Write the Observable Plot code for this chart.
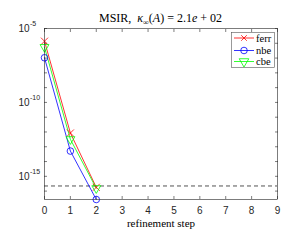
<!DOCTYPE html>
<html><head><meta charset="utf-8">
<script src="https://cdn.jsdelivr.net/npm/d3@7"></script>
<script src="https://cdn.jsdelivr.net/npm/@observablehq/plot@0.6"></script>
<style>body{margin:0;background:#fff} .serif{font-family:"Liberation Serif","DejaVu Serif",serif !important}</style>
</head><body><div id="chart"></div>
<script>
const steps = [0, 1, 2];
const ferr = [1.38e-6, 8.5e-13, 1.8e-16];
const nbe = [1.05e-7, 5.1e-14, 2.7e-17];
const cbe = [5.5e-7, 3.2e-13, 1.55e-16];
const seriesNames = ["ferr", "nbe", "cbe"];
const seriesColors = ["#ff0000", "#0000ff", "#00ff00"];
const seriesSymbols = ["times", "circle", "triangle"];
const xTicks = [0, 1, 2, 3, 4, 5, 6, 7, 8, 9];
const yLabelTicks = [1e-5, 1e-10, 1e-15];
const yLabelExponents = ["-5", "-10", "-15"];
const yDecadeTicks = [1e-5, 1e-6, 1e-7, 1e-8, 1e-9, 1e-10, 1e-11, 1e-12, 1e-13, 1e-14, 1e-15, 1e-16];
const unitRoundoff = 2.22e-16;
const xLabel = "refinement step";

const seriesValues = [ferr, nbe, cbe];
const rows = [];
seriesNames.forEach((s, i) => steps.forEach((st, j) => rows.push({series: s, step: st, value: seriesValues[i][j]})));

const axisColor = "#262626";
const plot = Plot.plot({
  width: 292, height: 240,
  marginLeft: 44, marginRight: 15, marginTop: 28, marginBottom: 41,
  style: {fontFamily: "'Liberation Sans', Arial, sans-serif", fontSize: "10px", background: "white", color: axisColor},
  x: {domain: [0, 9]},
  y: {type: "log", domain: [2.7e-17, 1e-5]},
  color: {domain: seriesNames, range: seriesColors},
  symbol: {domain: seriesNames, range: seriesSymbols},
  marks: [
    Plot.axisX({anchor: "bottom", ticks: xTicks, tickSize: -3, tickPadding: 10, tickFormat: d => String(d), label: null, strokeWidth: 0.6}),
    Plot.axisX({anchor: "top", ticks: xTicks, tickSize: -3, tickFormat: () => "", label: null, strokeWidth: 0.6}),
    Plot.axisY({anchor: "left", ticks: yDecadeTicks, tickSize: -3, tickFormat: () => "", label: null, strokeWidth: 0.6}),
    Plot.axisY({anchor: "right", ticks: yDecadeTicks, tickSize: -3, tickFormat: () => "", label: null, strokeWidth: 0.6}),
    Plot.text(yLabelTicks, {y: d => d, text: () => "10", frameAnchor: "left", dx: -15, textAnchor: "end", fontSize: 10, fill: axisColor}),
    Plot.text(yLabelTicks, {y: d => d, text: (d, i) => yLabelExponents[i], frameAnchor: "left", dx: -14.5, dy: -4.5, textAnchor: "start", fontSize: 7, fill: axisColor}),
    Plot.text([xLabel], {frameAnchor: "bottom", dy: 23.5, lineAnchor: "middle", className: "serif", fontSize: 11, fill: "#000"}),
    Plot.ruleY([unitRoundoff], {stroke: axisColor, strokeDasharray: "4,3", strokeWidth: 0.8}),
    Plot.line(rows, {x: "step", y: "value", z: "series", stroke: "series", strokeWidth: 0.8}),
    Plot.dot(rows, {x: "step", y: "value", stroke: "series", symbol: "series", r: 3.3, rotate: d => d.series === "cbe" ? 180 : 0, strokeWidth: 0.8, fill: "none"}),
    Plot.frame({stroke: axisColor, strokeWidth: 0.6})
  ]
});
document.getElementById("chart").appendChild(plot);

const svg = d3.select(plot);
// Title
const title = svg.append("text").attr("class", "serif").attr("x", 160.5).attr("y", 22).attr("text-anchor", "middle")
  .attr("font-size", 12).attr("fill", "#000");
title.append("tspan").text("MSIR,\u2002");
title.append("tspan").attr("font-style", "italic").text("κ");
title.append("tspan").attr("font-size", 8).attr("dy", 2.5).text("∞");
title.append("tspan").attr("dy", -2.5).text("(");
title.append("tspan").attr("font-style", "italic").text("A");
title.append("tspan").text(") = 2.1");
title.append("tspan").attr("font-style", "italic").text("e");
title.append("tspan").text(" + 02");

// Legend
const lg = svg.append("g");
lg.append("rect").attr("x", 231.5).attr("y", 32.5).attr("width", 43).attr("height", 35)
  .attr("fill", "white").attr("stroke", "#555").attr("stroke-width", 0.6);
const lys = [38, 50.5, 61.5];
seriesNames.forEach((s, i) => {
  const y = lys[i];
  lg.append("line").attr("x1", 234).attr("x2", 254).attr("y1", y).attr("y2", y)
    .attr("stroke", seriesColors[i]).attr("stroke-width", 0.8);
  const sym = {times: d3.symbolTimes, circle: d3.symbolCircle, triangle: d3.symbolTriangle}[seriesSymbols[i]];
  const size = s === "ferr" ? 22 : s === "nbe" ? Math.PI * 3.3 * 3.3 : 40;
  lg.append("path").attr("d", d3.symbol(sym, size)())
    .attr("transform", `translate(244,${y}) rotate(${s === "cbe" ? 180 : 0})`)
    .attr("fill", "none").attr("stroke", seriesColors[i]).attr("stroke-width", 0.8);
  lg.append("text").attr("class", "serif").attr("x", 256).attr("y", y).attr("dy", "0.35em").attr("text-anchor", "start")
    .attr("font-size", 10.5).attr("fill", "#000").text(s);
});
</script>
</body></html>
